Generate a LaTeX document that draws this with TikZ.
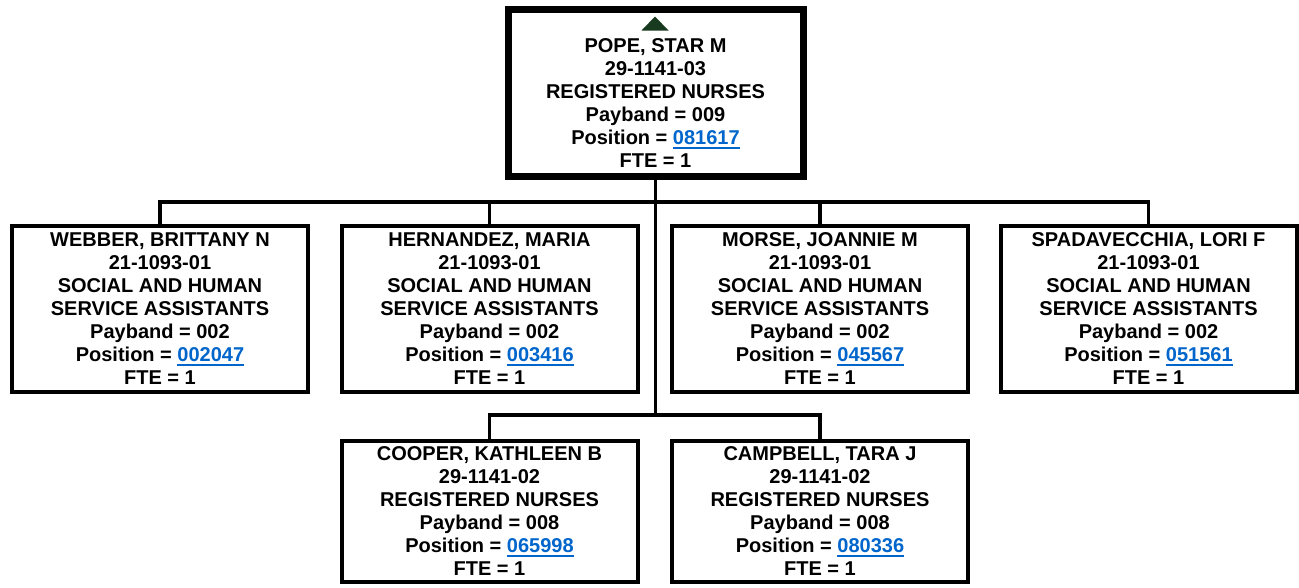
\documentclass[tikz,border=0pt]{standalone}
\usepackage{fontspec}
\setmainfont{Liberation Sans}
\definecolor{linkblue}{RGB}{0,102,204}
\definecolor{markgreen}{RGB}{24,58,30}
% underlined position number
\newcommand\lnk[1]{\textcolor{linkblue}{\setbox0\hbox{#1}\rlap{\rule[-3.8pt]{\wd0}{2pt}}\box0}}
\begin{document}
\begin{tikzpicture}[x=1pt,y=-1pt,
  txt/.style={align=center,inner sep=0pt,font=\bfseries\fontsize{20}{23}\selectfont},
  card/.style={txt,draw=black,line width=4pt,fill=white,minimum width=296pt},
  rowa/.style={card,minimum height=166.5pt},
  rowb/.style={card,minimum height=141pt},
  headbox/.style={draw=black,line width=7pt,fill=white,minimum width=295pt,minimum height=167pt,inner sep=0pt},
  conn/.style={line width=3.5pt,draw=black}]
\useasboundingbox (0,0) rectangle (1299,587);

% head of the unit
\node[headbox] (top) at (655.5,93) {};
\node[txt] (toptxt) at (655.5,103.4) {POPE, STAR M\\29-1141-03\\REGISTERED NURSES\\Payband = 009\\Position = \lnk{081617}\\FTE = 1};
\fill[markgreen] (641.5,30.5) -- (668.5,30.5) -- (655,16.5) -- cycle;

% junction points of the connector lines
\coordinate (j1) at (655.5,202);
\coordinate (j2) at (655.5,415);

% first row
\node[rowa] (b1) at (160,309) {WEBBER, BRITTANY N\\21-1093-01\\SOCIAL AND HUMAN\\SERVICE ASSISTANTS\\Payband = 002\\Position = \lnk{002047}\\FTE = 1};
\node[rowa] (b2) at (489.5,309) {HERNANDEZ, MARIA\\21-1093-01\\SOCIAL AND HUMAN\\SERVICE ASSISTANTS\\Payband = 002\\Position = \lnk{003416}\\FTE = 1};
\node[rowa] (b3) at (820,309) {MORSE, JOANNIE M\\21-1093-01\\SOCIAL AND HUMAN\\SERVICE ASSISTANTS\\Payband = 002\\Position = \lnk{045567}\\FTE = 1};
\node[rowa] (b4) at (1148.5,309) {SPADAVECCHIA, LORI F\\21-1093-01\\SOCIAL AND HUMAN\\SERVICE ASSISTANTS\\Payband = 002\\Position = \lnk{051561}\\FTE = 1};

% second row
\node[rowb] (c1) at (489.5,511.5) {COOPER, KATHLEEN B\\29-1141-02\\REGISTERED NURSES\\Payband = 008\\Position = \lnk{065998}\\FTE = 1};
\node[rowb] (c2) at (820,511.5) {CAMPBELL, TARA J\\29-1141-02\\REGISTERED NURSES\\Payband = 008\\Position = \lnk{080336}\\FTE = 1};

% connectors
\draw[conn] (top.south) -- (j2);
\draw[conn] (b1.north) |- (j1) -| (b4.north);
\draw[conn] (b2.north) -- (b2.north |- j1);
\draw[conn] (b3.north) -- (b3.north |- j1);
\draw[conn] (c1.north) |- (j2) -| (c2.north);
\end{tikzpicture}
\end{document}
